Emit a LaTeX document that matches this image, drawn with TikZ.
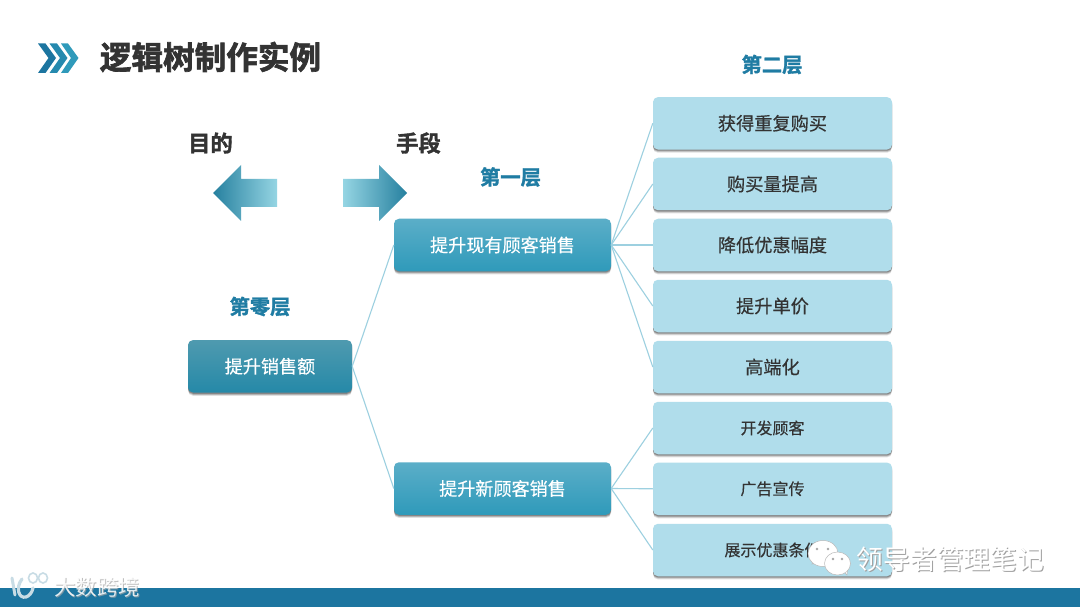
\documentclass[tikz,border=0pt]{standalone}
\usepackage{fontspec}
\setmainfont[FakeBold=0.35]{Noto Sans CJK SC}
\newfontfamily\cjkplain{Noto Sans CJK SC}
\newfontfamily\cjkb[FakeBold=1.6]{Noto Sans CJK SC Bold}
\newfontfamily\cjkbt[FakeBold=2.2]{Noto Sans CJK SC Bold}
\usetikzlibrary{shadows}
\definecolor{darkblue}{HTML}{1C75A0}
\definecolor{linecol}{HTML}{9DD0E0}
\definecolor{leaf}{HTML}{B0DDEB}
\definecolor{txt}{HTML}{333333}
\definecolor{heading}{HTML}{1F7CA3}
\definecolor{arrowdark}{HTML}{26809F}
\definecolor{arrowlight}{HTML}{95D5E3}
\definecolor{midtop}{HTML}{5BAEC8}
\definecolor{midbot}{HTML}{2F9ABA}
\definecolor{roottop}{HTML}{4F9AAF}
\definecolor{rootbot}{HTML}{2589A8}
\definecolor{chevmid}{HTML}{2589AE}
\definecolor{logocol}{HTML}{C8DCE5}
\tikzset{
  softshadow/.style={
    drop shadow={shadow xshift=0pt,shadow yshift=-3.2pt,fill=black,opacity=.12},
    drop shadow={shadow xshift=0pt,shadow yshift=-2.2pt,fill=black,opacity=.2},
    drop shadow={shadow xshift=0pt,shadow yshift=-1.2pt,fill=black,opacity=.25}},
  rootbox/.style={rounded corners=5pt,minimum width=164pt,minimum height=52.5pt,inner sep=0pt,softshadow,top color=roottop,bottom color=rootbot,text=white,font=\fontsize{18.1}{18}\selectfont},
  midbox/.style={rounded corners=5pt,minimum width=217pt,minimum height=52.5pt,inner sep=0pt,softshadow,top color=midtop,bottom color=midbot,text=white,font=\fontsize{18.1}{18}\selectfont},
  leafbox/.style={rounded corners=5pt,minimum width=239pt,minimum height=52.5pt,inner sep=0pt,softshadow,fill=leaf,text=txt,font=\fontsize{18.2}{18}\selectfont},
  smallleaf/.style={leafbox,font=\fontsize{16}{16}\selectfont},
  headtext/.style={inner sep=0pt,text=heading,font=\cjkb\fontsize{20.3}{20}\selectfont},
  bigtext/.style={inner sep=0pt,text=txt,font=\cjkb\fontsize{22.3}{22}\selectfont},
  conn/.style={draw=linecol,line width=1.1pt},
  bubble/.style={fill=white,draw=gray!55,line width=.5pt},
}
\begin{document}
\begin{tikzpicture}[x=1pt,y=-1pt]
\useasboundingbox (0,0) rectangle (1080,607);
\fill[white] (0,0) rectangle (1080,607);
% footer
\fill[darkblue] (0,588) rectangle (1080,607);
% title chevrons
\fill[darkblue] (38,43.5) -- (45.5,43.5) -- (56,58) -- (45.5,73) -- (38,73) -- (48.5,58) -- cycle;
\fill[chevmid] (49.5,43.5) -- (57,43.5) -- (67.5,58) -- (57,73) -- (49.5,73) -- (60,58) -- cycle;
\fill[midbot] (61,43.5) -- (68,43.5) -- (78.5,58) -- (68,73) -- (61,73) -- (71,58) -- cycle;
\node[inner sep=0pt,text=txt,font=\cjkbt\fontsize{31.6}{32}\selectfont] (title) at (210.5,57) {逻辑树制作实例};
% purpose / means
\node[bigtext] (goal) at (210.5,143) {目的};
\node[bigtext] (means) at (418.5,143) {手段};
\shade[left color=arrowdark,right color=arrowlight] (213,193) -- (241,165) -- (241,179) -- (277,179) -- (277,207) -- (241,207) -- (241,221) -- cycle;
\shade[left color=arrowlight,right color=arrowdark] (407,193) -- (379,165) -- (379,179) -- (343,179) -- (343,207) -- (379,207) -- (379,221) -- cycle;
% headings
\node[headtext] (h2) at (772,64.5) {第二层};
\node[headtext] (h1) at (510.5,177) {第一层};
\node[headtext] (h0) at (260,306.5) {第零层};
% boxes
\node[rootbox] (root) at (270,366.3) {提升销售额};
\node[midbox] (m1) at (502.5,245) {提升现有顾客销售};
\node[midbox] (m2) at (502.5,488.5) {提升新顾客销售};
\node[leafbox] (a1) at (772.5,123.3) {获得重复购买};
\node[leafbox] (a2) at (772.5,184) {购买量提高};
\node[leafbox] (a3) at (772.5,245) {降低优惠幅度};
\node[leafbox] (a4) at (772.5,306) {提升单价};
\node[leafbox] (a5) at (772.5,367) {高端化};
\node[smallleaf] (b1) at (772.5,428) {开发顾客};
\node[smallleaf] (b2) at (772.5,488.8) {广告宣传};
\node[smallleaf] (b3) at (772.5,550) {展示优惠条件};
\foreach \s/\t in {root/m1,root/m2,m1/a1,m1/a2,m1/a3,m1/a4,m1/a5,m2/b1,m2/b2,m2/b3}
  \draw[conn] (\s.east) -- (\t.west);
% watermarks
\draw[bubble] (812,564) -- (817,558) -- (822,563) -- cycle;
\draw[bubble] (823,553.5) ellipse (15 and 13);
\fill[white] (812,560) -- (817,556) -- (820,561) -- cycle;
\draw[bubble] (847,575) -- (840,568) -- (848,565) -- cycle;
\draw[bubble] (837.5,563.5) ellipse (13 and 11.5);
\fill[white] (846,572) -- (842,566) -- (847,566) -- cycle;
\fill[gray!70] (817,549) circle (1.4) (828,549) circle (1.4) (833,559) circle (1.3) (842,559) circle (1.3);
\node[inner sep=0pt,text=gray!75,font=\cjkplain\fontsize{26.8}{27}\selectfont] (wmshadow) at (951.5,560) {领导者管理笔记};
\node[inner sep=0pt,text=white,font=\cjkplain\fontsize{26.8}{27}\selectfont] (wm) at (950.5,559) {领导者管理笔记};
\node[inner sep=0pt,text=gray!70,opacity=.7,font=\cjkplain\fontsize{21.5}{22}\selectfont] (wm2s) at (98,588) {大数跨境};
\node[inner sep=0pt,text=white,opacity=.85,font=\cjkplain\fontsize{21.5}{22}\selectfont] (wm2) at (97,587) {大数跨境};
% logo
\draw[logocol,line width=3pt,line cap=round] (12,578) -- (15,595);
\draw[logocol,line width=3.2pt,line cap=round] (22,579) .. controls (15,588) and (19,599) .. (26,597) .. controls (29,596) and (32,593) .. (33,588);
\draw[logocol,line width=1.6pt] (33,578) ellipse (4.5 and 5) (43,578) ellipse (4.5 and 5);
\end{tikzpicture}
\end{document}
